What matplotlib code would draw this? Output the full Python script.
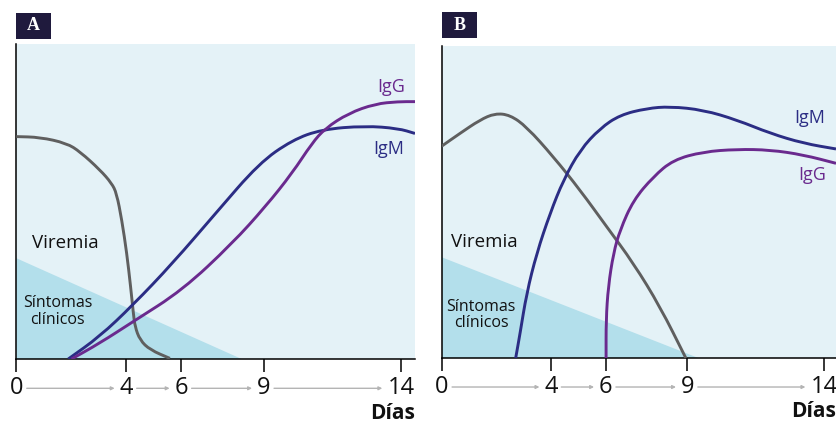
import matplotlib.pyplot as plt
from matplotlib.patches import Rectangle, PathPatch
from matplotlib.path import Path
from matplotlib.transforms import blended_transform_factory

plt.rcParams['font.family'] = ['Open Sans', 'DejaVu Sans']

dias = [0, 4, 6, 9, 14]

# panel A (valores leidos a ojo, y = 0..1)
a_sintomas_x = [0, 0, 8.2]
a_sintomas_y = [0, 0.32, 0]
a_viremia_x = [0, 0.86, 1.83, 2.32, 3.05, 3.47, 3.65, 3.84, 4.02, 4.16, 4.26, 4.32, 4.50, 4.87, 5.59]
a_viremia_y = [0.706, 0.704, 0.685, 0.658, 0.600, 0.558, 0.526, 0.441, 0.336, 0.230, 0.145, 0.103, 0.060, 0.029, 0.002]
a_igm_x = [1.89, 3.03, 4.24, 5.69, 7.26, 8.83, 10.04, 11.12, 12.69, 13.90, 14.51]
a_igm_y = [0.0, 0.071, 0.171, 0.304, 0.463, 0.621, 0.695, 0.729, 0.740, 0.732, 0.716]
a_igg_x = [2.01, 3.03, 4.24, 6.05, 7.86, 9.07, 10.04, 10.76, 11.24, 12.09, 13.06, 13.90, 14.51]
a_igg_y = [0.0, 0.050, 0.118, 0.219, 0.367, 0.484, 0.590, 0.685, 0.732, 0.780, 0.810, 0.817, 0.817]

# panel B
b_sintomas_x = [0, 0, 9.4]
b_sintomas_y = [0, 0.323, 0]
b_viremia_x = [0, 0.67, 1.40, 1.95, 2.50, 3.11, 4.09, 5.07, 6.04, 7.02, 8.00, 8.94]
b_viremia_y = [0.679, 0.720, 0.763, 0.784, 0.779, 0.741, 0.645, 0.538, 0.421, 0.304, 0.164, 0.0]
b_igm_x = [2.71, 2.87, 3.11, 3.48, 3.97, 4.46, 5.07, 5.80, 6.53, 7.51, 8.36, 9.58, 10.81, 12.03, 13.25, 14.44]
b_igm_y = [0.0, 0.079, 0.207, 0.336, 0.464, 0.571, 0.667, 0.736, 0.779, 0.800, 0.806, 0.795, 0.763, 0.720, 0.688, 0.670]
b_igg_x = [6.02, 6.02, 6.10, 6.29, 6.53, 7.02, 7.75, 8.48, 9.58, 10.81, 12.03, 13.25, 14.44]
b_igg_y = [0.0, 0.122, 0.229, 0.336, 0.410, 0.506, 0.581, 0.635, 0.661, 0.669, 0.667, 0.651, 0.624]

c_fondo = '#e4f2f7'
c_sintomas = '#b3dfeb'
c_viremia = '#5f5f5f'
c_igm = '#2b2d84'
c_igg = '#6a2a8e'


def curva(ax, xs, ys, color):
    # curva suave: los puntos leidos como puntos de control de beziers cuadraticas
    pts = list(zip(xs, ys))
    verts = [pts[0]]
    codes = [Path.MOVETO]
    mid = lambda p, q: ((p[0] + q[0]) / 2, (p[1] + q[1]) / 2)
    verts.append(mid(pts[0], pts[1]))
    codes.append(Path.LINETO)
    for i in range(1, len(pts) - 1):
        verts += [pts[i], mid(pts[i], pts[i + 1])]
        codes += [Path.CURVE3, Path.CURVE3]
    verts.append(pts[-1])
    codes.append(Path.LINETO)
    ax.add_patch(PathPatch(Path(verts, codes), fill=False, edgecolor=color, lw=2.1,
                           zorder=3, capstyle='butt', joinstyle='round'))


def panel(ax, xmax, sx, sy, vx, vy, mx, my, gx, gy, lab_m, lab_g, lab_v, lab_s):
    ax.set_facecolor(c_fondo)
    ax.set_xlim(0, xmax)
    ax.set_ylim(0, 1)
    for s in ['top', 'right']:
        ax.spines[s].set_visible(False)
    ax.spines['left'].set_linewidth(1.1)
    ax.spines['bottom'].set_linewidth(1.1)
    ax.set_yticks([])
    ax.set_xticks(dias)
    ax.tick_params(axis='x', direction='out', length=9.4, width=1.1, labelbottom=False)

    ax.fill(sx, sy, color=c_sintomas, lw=0, zorder=1)
    curva(ax, vx, vy, c_viremia)
    curva(ax, mx, my, c_igm)
    curva(ax, gx, gy, c_igg)

    ax.text(lab_m[0], lab_m[1], 'IgM', color=c_igm, fontsize=13, ha='center', va='center')
    ax.text(lab_g[0], lab_g[1], 'IgG', color=c_igg, fontsize=13, ha='center', va='center')
    ax.text(lab_v[0], lab_v[1], 'Viremia', color='#111111', fontsize=13.5, ha='center', va='center')
    ax.text(lab_s[0], lab_s[1], 'Síntomas\nclínicos', color='#111111', fontsize=11.5,
            ha='center', va='center', linespacing=1.05)

    # eje de dias con flechas
    tr = blended_transform_factory(ax.transData, ax.transAxes)
    yl = -0.093
    for d in dias:
        ax.text(d, yl, str(d), transform=tr, ha='center', va='center', fontsize=17, color='#111111')
    for i in range(len(dias) - 1):
        x0 = dias[i] + (0.38 if dias[i] < 10 else 0.6)
        x1 = dias[i + 1] - (0.42 if dias[i + 1] < 10 else 0.68)
        ax.annotate('', xy=(x1, yl), xytext=(x0, yl), xycoords=tr, textcoords=tr,
                    arrowprops=dict(arrowstyle='-|>', color='#b4b4b4', lw=1.0,
                                    mutation_scale=5, shrinkA=0, shrinkB=0),
                    annotation_clip=False)
    ax.text(1.0, -0.172, 'Días', transform=ax.transAxes, ha='right', va='center',
            fontsize=15, fontweight='bold', color='#111111')


fig = plt.figure(figsize=(8.36, 4.25), dpi=100)
W, H = 836, 425

axA = fig.add_axes([16.3 / W, 1 - 359 / H, (415 - 16.3) / W, 315 / H])
panel(axA, 14.51, a_sintomas_x, a_sintomas_y, a_viremia_x, a_viremia_y,
      a_igm_x, a_igm_y, a_igg_x, a_igg_y,
      (13.57, 0.667), (13.64, 0.864), (1.79, 0.369), (1.5, 0.15))

axB = fig.add_axes([441.7 / W, 1 - 358 / H, (836 - 441.7) / W, 312 / H])
panel(axB, 14.44, b_sintomas_x, b_sintomas_y, b_viremia_x, b_viremia_y,
      b_igm_x, b_igm_y, b_igg_x, b_igg_y,
      (13.49, 0.768), (13.55, 0.587), (1.56, 0.373), (1.44, 0.138))

# etiquetas A / B
for letra, x0, y0 in [('A', 16, 13), ('B', 442, 12)]:
    fig.add_artist(Rectangle((x0 / W, 1 - (y0 + 26) / H), 35 / W, 26 / H,
                             transform=fig.transFigure, color='#1f1a3d', lw=0))
    fig.text((x0 + 17.5) / W, 1 - (y0 + 13) / H, letra, color='white', fontsize=13,
             fontweight='bold', family='Liberation Serif', ha='center', va='center')

fig.savefig('out.png', dpi=100)
